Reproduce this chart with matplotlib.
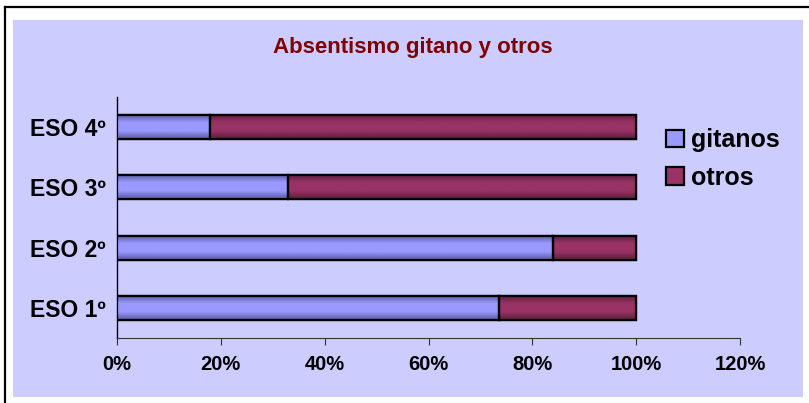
import matplotlib
matplotlib.use("Agg")
import matplotlib.pyplot as plt
import numpy as np
from matplotlib.patches import Rectangle, Patch
from matplotlib.lines import Line2D
from matplotlib.colors import LinearSegmentedColormap

categories = ["ESO 1º", "ESO 2º", "ESO 3º", "ESO 4º"]
gitanos = [73.5, 84, 33, 18]
otros = [26.5, 16, 67, 82]
series_names = ["gitanos", "otros"]
xticks = [0, 20, 40, 60, 80, 100, 120]
xtick_labels = ["0%", "20%", "40%", "60%", "80%", "100%", "120%"]
title = "Absentismo gitano y otros"

W, H = 809, 403
plt.rcParams['font.family'] = ['Liberation Sans', 'DejaVu Sans']
fig = plt.figure(figsize=(W / 100, H / 100), dpi=100)
fig.patch.set_facecolor("white")

def px(x, y):
    return x / W, 1 - y / H

# lavender panel
x0, y0 = px(13, 397)
x1, y1 = px(803, 20)
fig.patches.append(Rectangle((x0, y0), x1 - x0, y1 - y0, transform=fig.transFigure,
                             facecolor="#CCCCFF", edgecolor="none", zorder=-10))
# frame lines (top and left)
fig.lines.append(Line2D([5 / W, 5 / W], [0, 1 - 7 / H], transform=fig.transFigure,
                        color="black", lw=1.6, zorder=-5))
fig.lines.append(Line2D([5 / W, 1], [1 - 7 / H, 1 - 7 / H], transform=fig.transFigure,
                        color="black", lw=1.6, zorder=-5))

ax = fig.add_axes([117 / W, 1 - 338 / H, (740 - 117) / W, (338 - 97) / H])
ax.set_facecolor("none")

y = np.arange(len(categories))
h = 0.4
cmaps = [
    LinearSegmentedColormap.from_list("g", ["#5A5A9E", "#9999FF", "#9999FF", "#5A5A9E"]),
    LinearSegmentedColormap.from_list("o", ["#5A1E3C", "#993366", "#993366", "#5A1E3C"]),
]
grad = np.linspace(0, 1, 64).reshape(-1, 1)
lefts = np.zeros(len(categories))
for vals, cm, name, col in zip([gitanos, otros], cmaps, series_names, ["#9999FF", "#993366"]):
    bars = ax.barh(y, vals, height=h, left=lefts, color=col, edgecolor="black",
                   linewidth=1.6, label=name, zorder=3)
    for b in bars:
        bx, by = b.get_x(), b.get_y()
        im = ax.imshow(grad, cmap=cm, aspect="auto",
                       extent=[bx, bx + b.get_width(), by, by + b.get_height()],
                       zorder=3.5, interpolation="bilinear")
        im.set_clip_path(b)
        ov = Rectangle((bx, by), b.get_width(), b.get_height(), facecolor="none",
                       edgecolor="black", linewidth=1.6, zorder=4)
        ax.add_patch(ov)
    lefts = lefts + np.array(vals)
ax.set_xlim(0, 120)
ax.set_ylim(-0.5, 3.5)

ax.set_yticks(y)
ax.set_yticklabels(categories, fontsize=16.5, fontweight="bold")
ax.set_xticks(xticks)
ax.set_xticklabels(xtick_labels, fontsize=14.5, fontweight="bold")
ax.tick_params(axis="y", length=0, pad=8)
ax.tick_params(axis="x", direction="out", length=5, width=0.8, color="#333333", pad=7)
for s in ["top", "right"]:
    ax.spines[s].set_visible(False)
ax.spines["left"].set_color("black")
ax.spines["left"].set_linewidth(1.0)
ax.spines["bottom"].set_color("#333333")
ax.spines["bottom"].set_linewidth(0.8)

# legend
handles = [Patch(facecolor="#9999FF", edgecolor="black", linewidth=1.6),
           Patch(facecolor="#993366", edgecolor="black", linewidth=1.6)]
leg = fig.legend(handles, series_names, loc="upper left",
                 bbox_to_anchor=(666 / W, 1 - 128 / H), frameon=False,
                 borderpad=0, borderaxespad=0,
                 prop={"size": 18, "weight": "bold"}, handlelength=0.7,
                 handleheight=0.7, handletextpad=0.3, labelspacing=0.55)

fig.text(413 / W, 1 - 47 / H, title, ha="center", va="center", fontsize=16,
         fontweight="bold", color="#800000")

fig.savefig("out.png", dpi=100, facecolor="white")
